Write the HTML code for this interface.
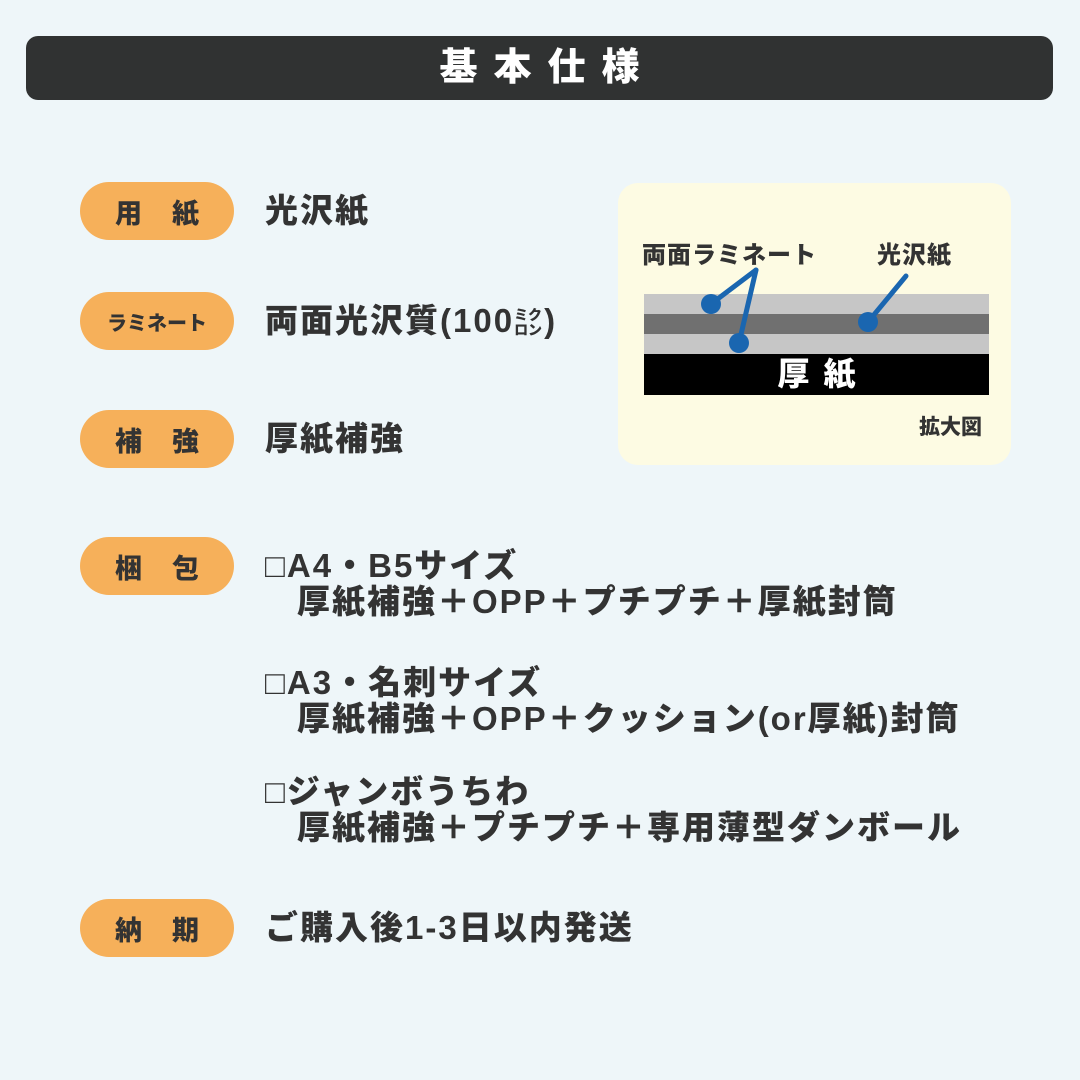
<!DOCTYPE html><html><head><meta charset="utf-8"><style>
body{margin:0;width:1080px;height:1080px;background:#eef6f9;position:relative;overflow:hidden;font-family:"Liberation Sans","Noto Sans CJK JP",sans-serif;font-weight:bold;color:#333}
.a{position:absolute;white-space:nowrap}
.pill{position:absolute;left:80px;width:154px;height:58px;border-radius:29px;background:#f6b05a;color:#333;font-size:27px;display:flex;align-items:center;justify-content:center;font-weight:900}
.t{position:absolute;left:265px;font-size:33px;letter-spacing:2px;font-weight:900;white-space:nowrap;line-height:36px}
.t .i{padding-left:32px}
</style></head><body>
<div class="a" style="left:26px;top:36px;width:1027px;height:64px;background:#303232;border-radius:12px;color:#fff;font-size:38px;text-align:center;line-height:64px;letter-spacing:16px;text-indent:16px;font-weight:900">基本仕様</div>
<div class="pill" style="top:182px;letter-spacing:30px;padding-left:30px;box-sizing:border-box">用紙</div>
<div class="t" style="top:193px">光沢紙</div>
<div class="pill" style="top:292px;font-size:20px">ラミネート</div>
<div class="t" style="top:303px">両面光沢質(100<span style="font-size:14px;display:inline-block;line-height:15px;vertical-align:middle;width:30px;white-space:normal;letter-spacing:0">ミク<br>ロン</span>)</div>
<div class="pill" style="top:410px;letter-spacing:30px;padding-left:30px;box-sizing:border-box">補強</div>
<div class="t" style="top:421px">厚紙補強</div>
<div class="pill" style="top:537px;letter-spacing:30px;padding-left:30px;box-sizing:border-box">梱包</div>
<div class="t" style="top:548px">□A4・B5サイズ<br><span class="i">厚紙補強＋OPP＋プチプチ＋厚紙封筒</span></div>
<div class="t" style="top:665px">□A3・名刺サイズ<br><span class="i">厚紙補強＋OPP＋クッション(or厚紙)封筒</span></div>
<div class="t" style="top:774px">□ジャンボうちわ<br><span class="i">厚紙補強＋プチプチ＋専用薄型ダンボール</span></div>
<div class="pill" style="top:899px;letter-spacing:30px;padding-left:30px;box-sizing:border-box">納期</div>
<div class="t" style="top:910px">ご購入後1-3日以内発送</div>
<div class="a" style="left:618px;top:183px;width:393px;height:282px;background:#fdfbe3;border-radius:20px"></div>
<div class="a" style="left:642px;top:235px;font-size:24px;letter-spacing:1px;font-weight:900">両面ラミネート</div>
<div class="a" style="left:877px;top:235px;font-size:24px;letter-spacing:1px;font-weight:900">光沢紙</div>
<div class="a" style="left:644px;top:294px;width:345px;height:20px;background:#c6c6c6"></div>
<div class="a" style="left:644px;top:314px;width:345px;height:20px;background:#707070"></div>
<div class="a" style="left:644px;top:334px;width:345px;height:20px;background:#c6c6c6"></div>
<div class="a" style="left:644px;top:354px;width:345px;height:41px;background:#000;color:#fff;font-size:32px;text-align:center;line-height:41px;letter-spacing:14px;text-indent:14px;font-weight:900">厚紙</div>
<svg class="a" style="left:0;top:0" width="1080" height="1080"><g stroke="#1a66b0" stroke-width="5" fill="#1a66b0" stroke-linecap="round"><line x1="711" y1="304" x2="756" y2="270"/><line x1="739" y1="343" x2="756" y2="270"/><line x1="868" y1="322" x2="906" y2="276"/><circle cx="711" cy="304" r="10" stroke="none"/><circle cx="739" cy="343" r="10" stroke="none"/><circle cx="868" cy="322" r="10" stroke="none"/></g></svg>
<div class="a" style="left:919px;top:411px;font-size:21px;font-weight:900">拡大図</div>
</body></html>
